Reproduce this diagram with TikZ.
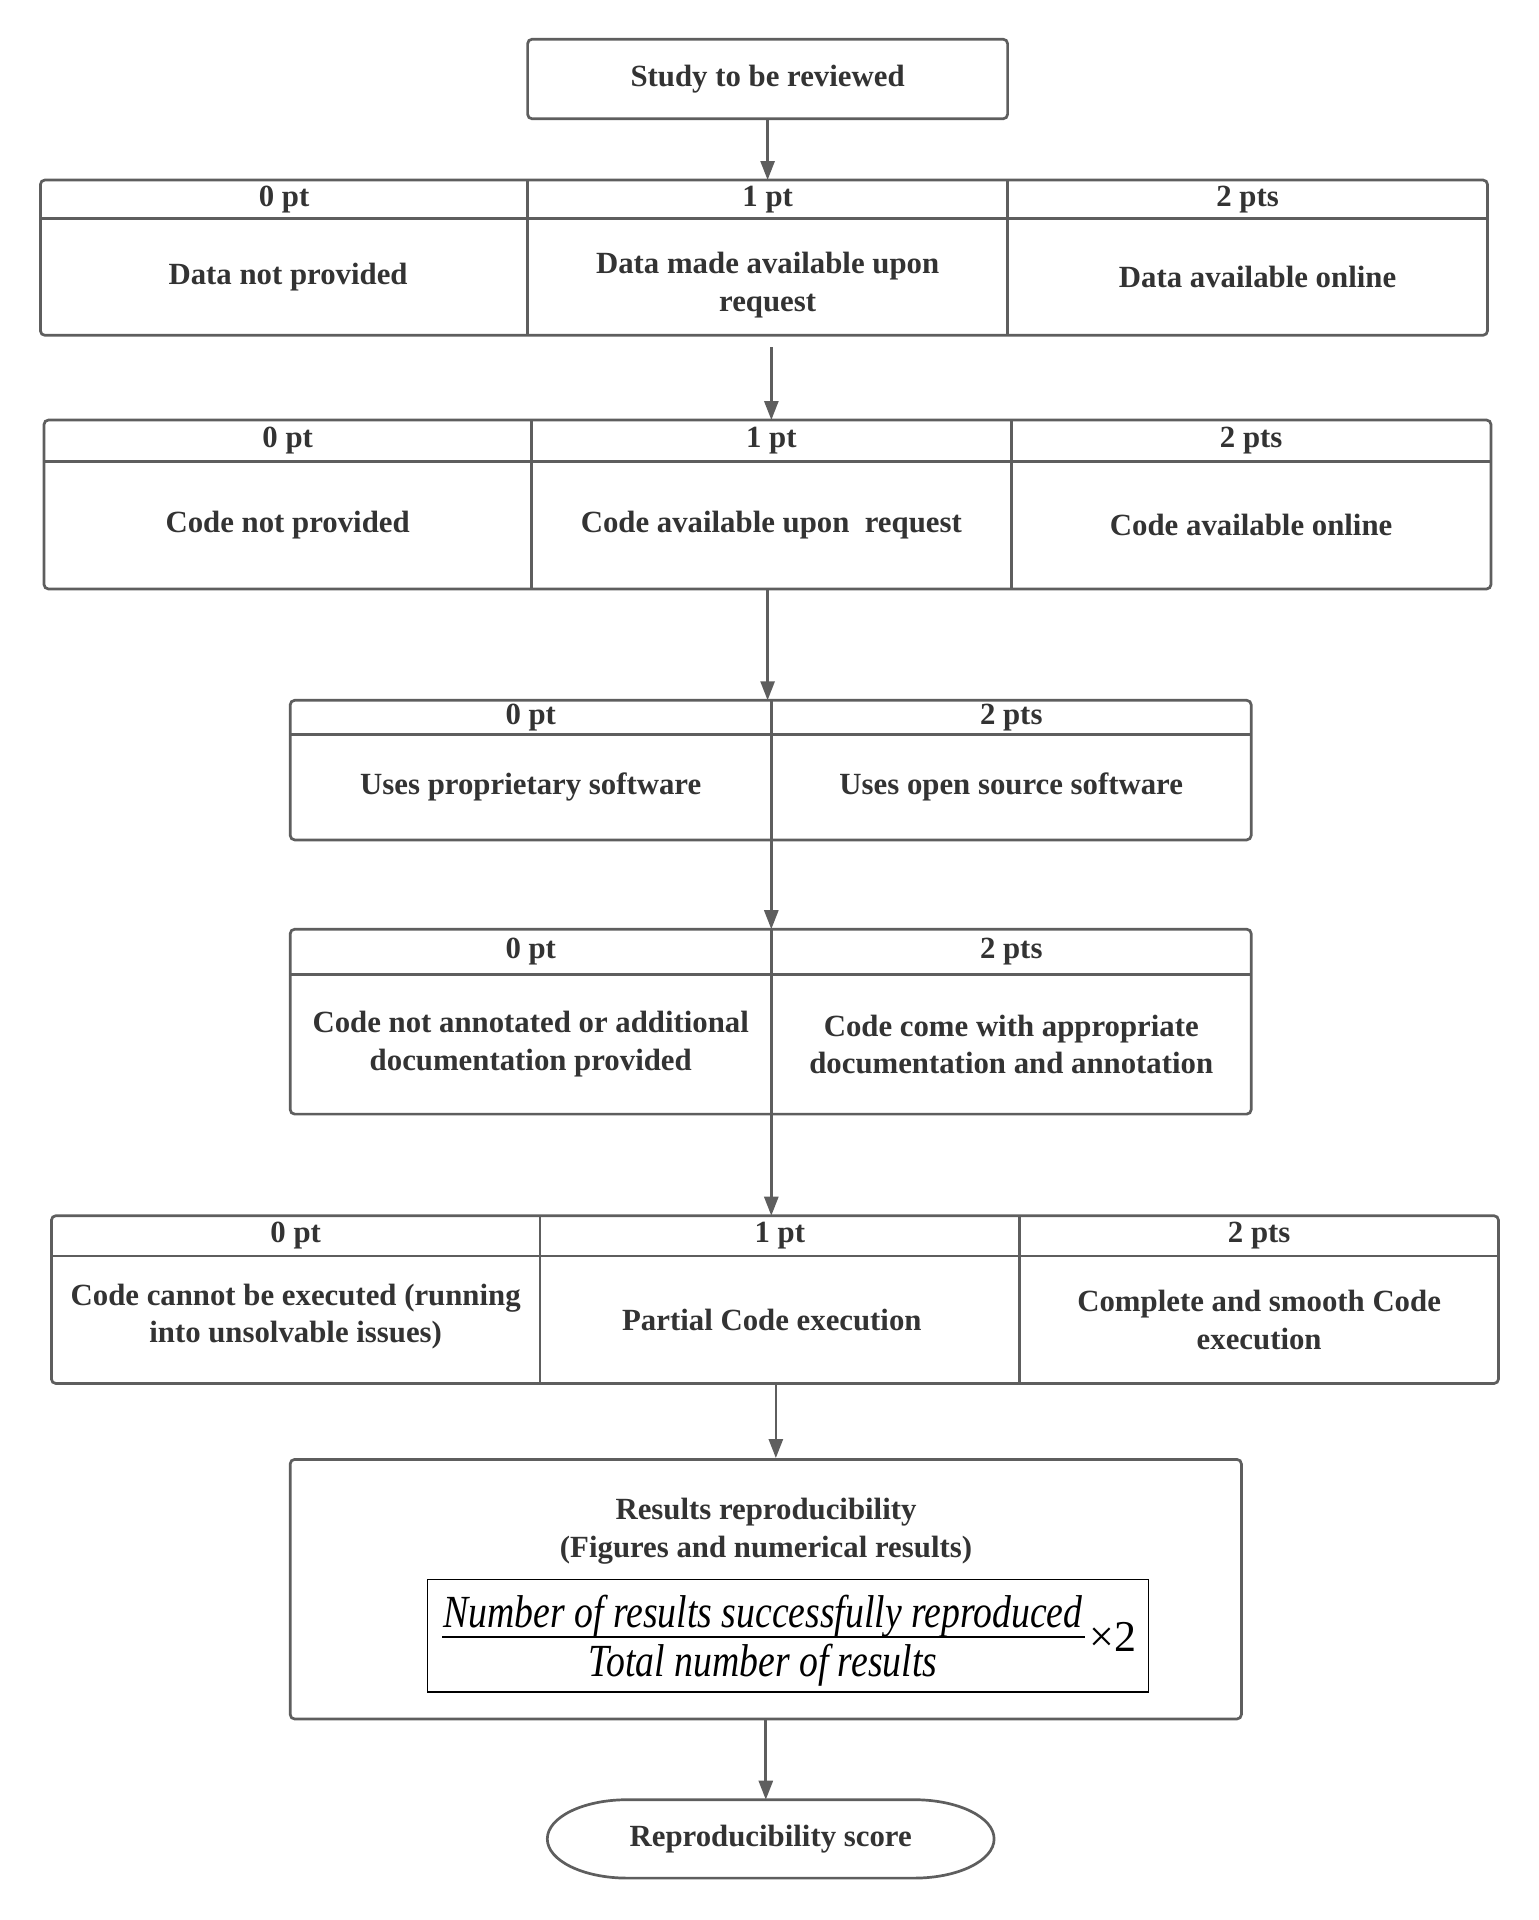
\documentclass[tikz,border=0pt]{standalone}
\usepackage{fontspec}
\setmainfont{Liberation Serif}
\newfontfamily\fracfont[FakeStretch=0.82]{Liberation Serif}
\usetikzlibrary{positioning}
\usetikzlibrary{arrows.meta}
\usetikzlibrary{calc}
\definecolor{linegray}{HTML}{5E5E5E}
\definecolor{txtgray}{HTML}{333333}
\newcommand{\cellfont}{\fontsize{30.8}{37.5}\selectfont\bfseries}
\newcommand{\ratiofont}{\fontsize{46}{52}\selectfont\fracfont\itshape}
\newcommand{\ratioup}{\fontsize{44}{50}\selectfont}

\tikzset{
  cell/.style={inner sep=0pt, outer sep=0pt, align=center, text=txtgray, font=\cellfont},
  frame/.style={draw=linegray, line width=2.7pt, rounded corners=4.5pt},
  rule/.style={draw=linegray, line width=2.7pt},
  link/.style={draw=linegray, line width=2.7pt, -{Triangle[length=19pt,width=14pt]}},
  ratio/.style={inner sep=0pt, outer sep=0pt, text=black, font=\ratiofont}
}

\begin{document}
\begin{tikzpicture}[x=1pt, y=-1pt]
    \fill[white] (0,0) rectangle (1539,1920);
    \useasboundingbox (0,0) rectangle (1539,1920);

    % Study box
    \node[cell, frame, minimum width=480pt, minimum height=79.6pt] (study) at (767.6,79) {Study to be reviewed};

    % Data row
    \node[cell, minimum width=487.3pt, minimum height=38.8pt, anchor=north west] (d0h) at (40.4,180) {0 pt};
    \node[cell, minimum width=479.9pt, minimum height=38.8pt, right=0pt of d0h] (d1h) {1 pt};
    \node[cell, minimum width=479.9pt, minimum height=38.8pt, right=0pt of d1h] (d2h) {2 pts};
    \node[cell, minimum width=487.3pt, minimum height=116.5pt, below=0pt of d0h, xshift=4pt] (d0) {Data not provided};
    \node[cell, minimum width=479.9pt, minimum height=116.5pt, below=0pt of d1h, yshift=-8pt] (d1) {Data made available upon\\request};
    \node[cell, minimum width=479.9pt, minimum height=116.5pt, below=0pt of d2h, xshift=10pt] (d2) {Data available online};
    \draw[frame] (d0h.north west) rectangle (d2h.east |- d0.south);
    \draw[rule] (d0h.south west) -- (d2h.south east);
    \draw[rule] (d0h.north east) -- (d0h.north east |- d0.south);
    \draw[rule] (d1h.north east) -- (d1h.north east |- d0.south);

    % Code row
    \node[cell, minimum width=487.3pt, minimum height=41.6pt, anchor=north west] (c0h) at (44,420) {0 pt};
    \node[cell, minimum width=480pt, minimum height=41.6pt, right=0pt of c0h] (c1h) {1 pt};
    \node[cell, minimum width=479.7pt, minimum height=41.6pt, right=0pt of c1h] (c2h) {2 pts};
    \node[cell, minimum width=487.3pt, minimum height=127.4pt, below=0pt of c0h] (c0) {Code not provided};
    \node[cell, minimum width=480pt, minimum height=127.4pt, below=0pt of c1h] (c1) {Code available upon~ request};
    \node[cell, minimum width=479.7pt, minimum height=127.4pt, below=0pt of c2h] (c2) {Code available online};
    \draw[frame] (c0h.north west) rectangle (c2h.east |- c0.south);
    \draw[rule] (c0h.south west) -- (c2h.south east);
    \draw[rule] (c0h.north east) -- (c0h.north east |- c0.south);
    \draw[rule] (c1h.north east) -- (c1h.north east |- c0.south);

    % Software row
    \node[cell, minimum width=481.1pt, minimum height=34.3pt, anchor=north west] (s0h) at (290.2,700.3) {0 pt};
    \node[cell, minimum width=479.9pt, minimum height=34.3pt, right=0pt of s0h] (s1h) {2 pts};
    \node[cell, minimum width=481.1pt, minimum height=105.3pt, below=0pt of s0h] (s0) {Uses proprietary software};
    \node[cell, minimum width=479.9pt, minimum height=105.3pt, below=0pt of s1h] (s1) {Uses open source software};
    \draw[frame] (s0h.north west) rectangle (s1h.east |- s0.south);
    \draw[rule] (s0h.south west) -- (s1h.south east);
    \draw[rule] (s0h.north east) -- (s0h.north east |- s0.south);

    % Annotation row
    \node[cell, minimum width=481.1pt, minimum height=45.3pt, anchor=north west] (a0h) at (290.2,929.2) {0 pt};
    \node[cell, minimum width=479.9pt, minimum height=45.3pt, right=0pt of a0h] (a1h) {2 pts};
    \node[cell, minimum width=481.1pt, minimum height=139.6pt, below=0pt of a0h] (a0) {Code not annotated or additional\\documentation provided};
    \node[cell, minimum width=479.9pt, minimum height=139.6pt, below=0pt of a1h] (a1) {Code come with appropriate\\documentation and annotation};
    \draw[frame] (a0h.north west) rectangle (a1h.east |- a0.south);
    \draw[rule] (a0h.south west) -- (a1h.south east);
    \draw[rule] (a0h.north east) -- (a0h.north east |- a0.south);

    % Execution row
    \node[cell, minimum width=488.5pt, minimum height=40.4pt, anchor=north west] (e0h) at (51.4,1215.7) {0 pt};
    \node[cell, minimum width=479.9pt, minimum height=40.4pt, right=0pt of e0h] (e1h) {1 pt};
    \node[cell, minimum width=478.7pt, minimum height=40.4pt, right=0pt of e1h] (e2h) {2 pts};
    \node[cell, minimum width=488.5pt, minimum height=127.4pt, below=0pt of e0h, yshift=3pt] (e0) {Code cannot be executed (running\\into unsolvable issues)};
    \node[cell, minimum width=479.9pt, minimum height=127.4pt, below=0pt of e1h, xshift=-8pt] (e1) {Partial Code execution};
    \node[cell, minimum width=478.7pt, minimum height=127.4pt, below=0pt of e2h] (e2) {Complete and smooth Code\\execution};
    \draw[frame] (e0h.north west) rectangle (e2h.east |- e2.south);
    \draw[rule] (e0h.south west) -- (e2h.south east);
    \draw[rule] (e0h.north east) -- (e0h.north east |- e2.south);
    \draw[rule] (e1h.north east) -- (e1h.north east |- e2.south);

    % Results box with ratio
    \node[frame, inner sep=0pt, minimum width=951.2pt, minimum height=259.6pt] (results) at (765.8,1589.2) {};
    \node[cell] (restitle) at (766,1531) {Results reproducibility\\(Figures and numerical results)};
    \node[draw=black, line width=1.4pt, inner sep=0pt, minimum width=721.1pt, minimum height=112.7pt] (formula) at (787.9,1635.7) {};
    \node[ratio] (numer) at (763,1616) {Number of results successfully reproduced};
    \node[ratio] (denom) at (763,1665) {Total number of results};
    \draw[line width=2pt] (442,1637) -- (1085,1637);
    \node[ratio, font=\ratioup] (times) at (1113,1637) {×2};

    % Score terminal
    \node[cell, minimum width=446.8pt, minimum height=78.4pt] (score) at (770.7,1838.9) {Reproducibility score};
    \draw[rule] ([xshift=80pt]score.north west) -- ([xshift=-80pt]score.north east)
        arc[start angle=90, end angle=-90, x radius=80pt, y radius=39.2pt]
        -- ([xshift=80pt]score.south west)
        arc[start angle=270, end angle=90, x radius=80pt, y radius=39.2pt] -- cycle;

    % Arrows
    \coordinate (d1out) at ($(d1h.south |- d0.south)+(3.7,12)$);
    \coordinate (e1out) at ($(e1h.south |- e2.south)+(-4,0)$);
    \draw[link] (study.south) -- (study.south |- d1h.north);
    \draw[link] (d1out) -- (d1out |- c1h.north);
    \draw[link] ([xshift=-3.7pt]c1.south) -- ([xshift=-3.7pt]c1.south |- s0h.north);
    \draw[link] (s0.south east) -- (a0h.north east);
    \draw[link] (a0.south east) -- (a0.south east |- e1h.north);
    \draw[link] (e1out) -- (e1out |- results.north);
    \draw[link] (results.south) -- (results.south |- score.north);
\end{tikzpicture}
\end{document}
